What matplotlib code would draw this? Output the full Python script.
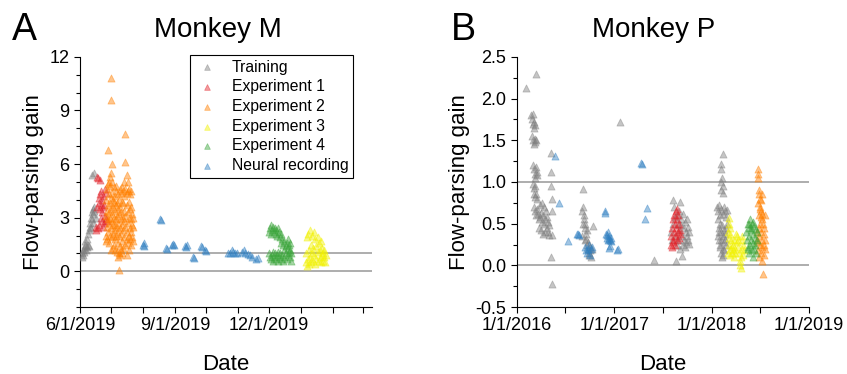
import numpy as np
import matplotlib
matplotlib.use("Agg")
import matplotlib.pyplot as plt
import matplotlib.dates as mdates
from matplotlib.ticker import MultipleLocator, FuncFormatter

plt.rcParams["font.family"] = ["Liberation Sans", "DejaVu Sans"]

# ---- Monkey M: day offset from 2019-06-01, flow-parsing gain ----
M_START = np.datetime64("2019-06-01")
m_train_day = [2, 2, 3, 3, 4, 4, 5, 5, 6, 6, 7, 7, 8, 8, 9, 9, 10, 10, 11, 11,
               12, 12, 12, 13, 13, 13, 14, 14, 14, 15]
m_train_gain = [0.8, 1.0, 1.2, 0.9, 1.3, 1.1, 1.5, 1.7, 1.4, 1.2, 1.8, 1.35, 1.45, 2.1,
                2.3, 1.4, 2.5, 2.7, 2.4, 3.0, 2.9, 3.3, 5.4, 3.5, 3.2, 2.7, 3.6, 5.5,
                3.4, 3.0]
m_exp1_day = [15, 15, 16, 16, 17, 17, 18, 18, 18, 19, 19, 19, 20, 20, 20, 21, 21, 21,
              22, 22, 22, 23, 23, 24, 24, 25, 25, 26]
m_exp1_gain = [2.3, 2.5, 3.6, 5.3, 5.2, 2.4, 3.8, 4.1, 2.6, 4.3, 3.5, 5.1, 4.5, 3.7, 3.0,
               4.0, 3.3, 2.8, 4.2, 3.6, 2.5, 3.7, 2.7, 4.6, 3.1, 2.9, 4.4, 2.8]
m_exp2_day = [25, 25, 25, 25, 26, 26, 26, 26, 27, 27, 27, 27, 27, 28, 28, 28, 28, 28,
              29, 29, 29, 29, 29, 30, 30, 30, 30, 30, 30, 30, 31, 31, 31, 31, 31, 31,
              32, 32, 32, 32, 32, 33, 33, 33, 33, 33, 34, 34, 34, 34, 34, 35, 35, 35,
              35, 35, 36, 36, 36, 36, 36, 37, 37, 37, 37, 37, 38, 38, 38, 38, 38, 39,
              39, 39, 39, 39, 40, 40, 40, 40, 40, 41, 41, 41, 41, 41, 42, 42, 42, 42,
              42, 43, 43, 43, 43, 43, 44, 44, 44, 44, 44, 44, 45, 45, 45, 45, 45, 45,
              46, 46, 46, 46, 46, 47, 47, 47, 47, 47, 48, 48, 48, 48, 49, 49, 49, 49,
              49, 50, 50, 50, 51, 51, 51]
m_exp2_gain = [2.0, 3.1, 4.0, 1.7, 2.5, 3.4, 4.6, 1.8, 2.2, 2.9, 3.7, 6.8, 4.9, 1.6, 2.7,
               3.3, 4.3, 5.0, 2.0, 3.0, 3.8, 4.8, 5.3, 1.2, 2.4, 3.5, 4.1, 5.5, 9.6, 10.8,
               1.9, 2.8, 3.2, 4.4, 6.0, 5.0, 1.3, 2.1, 3.6, 4.0, 2.6, 1.5, 2.3, 3.0, 3.9,
               4.7, 1.8, 2.6, 3.4, 4.2, 1.2, 2.0, 2.9, 3.7, 4.5, 4.8, 1.1, 2.2, 3.1, 3.8,
               2.5, 0.8, 1.6, 2.7, 3.5, 4.3, 0.1, 1.0, 2.0, 3.2, 4.0, 1.4, 2.4, 3.6, 4.6,
               0.9, 1.2, 2.1, 2.9, 3.3, 4.4, 1.7, 2.6, 3.9, 4.7, 1.0, 1.3, 2.3, 3.0, 3.8,
               4.5, 1.9, 2.8, 3.4, 4.2, 5.0, 1.5, 2.5, 3.1, 4.6, 6.1, 7.7, 0.9, 1.8, 2.2,
               3.7, 4.4, 5.4, 1.6, 2.7, 3.3, 4.5, 5.0, 1.2, 2.0, 3.0, 3.9, 4.6, 1.8, 2.4,
               3.5, 4.3, 1.5, 2.2, 2.9, 3.6, 4.5, 1.9, 2.6, 3.2, 1.7, 2.5, 3.0]
m_exp3_day = [219, 219, 220, 220, 221, 221, 222, 222, 223, 223, 224, 224, 225, 225, 226,
              226, 227, 227, 228, 228, 229, 229, 230, 230, 231, 231, 232, 232, 233, 233,
              234, 234, 235, 235, 236, 236, 237, 238]
m_exp3_gain = [0.5, 1.0, 0.3, 1.9, 0.7, 2.1, 1.2, 0.4, 2.3, 0.8, 1.5, 0.5, 2.0, 1.0, 1.3,
               0.6, 2.2, 0.9, 1.8, 0.4, 1.4, 0.7, 1.9, 1.1, 1.6, 0.6, 1.2, 0.8, 1.7, 0.5,
               1.3, 0.9, 1.0, 0.6, 1.2, 0.8, 0.5, 0.9]
m_exp4_day = [183, 183, 184, 184, 185, 185, 185, 186, 186, 187, 187, 187, 188, 188, 189,
              189, 190, 190, 190, 191, 191, 192, 192, 192, 193, 193, 194, 194, 195, 195,
              195, 196, 196, 197, 197, 198, 198, 198, 199, 199, 200, 200, 201, 201, 201,
              202, 202, 203, 203, 203, 204, 204]
m_exp4_gain = [2.2, 1.0, 2.4, 0.8, 2.6, 0.7, 2.1, 2.3, 0.9, 2.5, 1.1, 0.6, 2.2, 0.8, 2.4,
               1.0, 2.1, 0.7, 2.3, 2.0, 0.9, 2.4, 1.1, 0.6, 2.2, 0.8, 1.9, 1.0, 2.1, 0.7,
               1.6, 1.8, 0.9, 1.5, 0.6, 1.7, 1.2, 0.8, 1.4, 1.0, 1.6, 0.7, 1.3, 1.8, 0.9,
               1.5, 1.1, 1.2, 0.8, 1.6, 1.0, 0.6]
m_neural_day = [61, 62, 62, 77, 78, 83, 84, 89, 90, 91, 102, 103, 104, 109, 110, 117, 118,
                121, 122, 143, 145, 147, 148, 150, 152, 157, 159, 160, 163, 165, 167, 170,
                172]
m_neural_gain = [1.5, 1.6, 1.4, 2.9, 2.85, 1.3, 1.25, 1.5, 1.55, 1.45, 1.4, 1.35, 1.45,
                 0.8, 0.75, 1.4, 1.35, 1.2, 1.15, 1.0, 1.05, 1.2, 1.1, 1.0, 1.05, 1.1, 1.2,
                 1.05, 0.95, 0.9, 0.8, 0.7, 0.75]

# ---- Monkey P: day offset from 2016-01-01 ----
P_START = np.datetime64("2016-01-01")
p_train_day = [35, 71, 55, 58, 60, 62, 64, 66, 68, 58, 61, 64, 67, 70, 73, 62, 65, 68, 72,
               75, 78, 70, 60, 64, 68, 66, 70, 74, 78, 64, 68, 72, 76, 80, 84, 88, 92, 96,
               100, 104, 108, 112, 116, 120, 86, 94, 102, 110, 82, 90, 98, 106, 114, 118,
               122, 130, 130, 130, 132, 131, 134, 130, 131,
               248, 250, 252, 246, 255, 258, 260, 262, 256, 264, 266, 268, 270, 272, 274,
               276, 260, 254, 250, 244, 278, 282, 288, 387, 515,
               585, 590, 596, 588, 592, 600, 605, 610, 612, 615, 618, 620, 620, 622, 624,
               626, 628, 630, 632, 634, 636, 638, 640, 642, 644, 646, 648, 602, 606, 614,
               580, 583, 598, 608,
               772, 765, 768, 770, 766, 772, 768, 774, 752, 756, 760, 764, 768, 772, 776,
               780, 784, 788, 754, 758, 762, 766, 770, 774, 778, 782, 786, 790, 756, 760,
               764, 768, 772, 776, 780, 760, 766, 770, 774, 778, 764, 784]
p_train_gain = [2.13, 2.29, 1.8, 1.75, 1.7, 1.82, 1.65, 1.72, 1.68, 1.55, 1.5, 1.45, 1.52,
                1.48, 1.5, 1.2, 1.15, 1.1, 1.18, 1.12, 1.08, 1.05, 0.97, 0.93, 0.95, 0.86,
                0.82, 0.85, 0.8, 0.7, 0.65, 0.6, 0.68, 0.62, 0.55, 0.58, 0.63, 0.52, 0.6,
                0.5, 0.55, 0.45, 0.4, 0.48, 0.72, 0.75, 0.7, 0.65, 0.45, 0.42, 0.38, 0.4,
                0.58, 0.52, 0.36, 1.35, 1.12, 0.95, 0.8, 0.65, 0.36, 0.1, -0.22,
                0.92, 0.7, 0.6, 0.65, 0.45, 0.5, 0.38, 0.42, 0.3, 0.25, 0.2, 0.28, 0.15,
                0.12, 0.18, 0.22, 0.32, 0.55, 0.5, 0.35, 0.1, 0.2, 0.47, 1.72, 0.07,
                0.78, 0.7, 0.05, 0.5, 0.58, 0.6, 0.5, 0.42, 0.76, 0.55, 0.48, 0.11, 0.35,
                0.62, 0.25, 0.45, 0.3, 0.52, 0.22, 0.4, 0.28, 0.56, 0.35, 0.46, 0.3, 0.26,
                0.4, 0.25, 0.3, 0.2, 0.4, 0.3, 0.35, 0.65,
                1.33, 1.22, 1.15, 1.05, 1.0, 0.95, 0.9, 0.87, 0.7, 0.65, 0.72, 0.6, 0.68,
                0.62, 0.7, 0.65, 0.58, 0.66, 0.55, 0.45, 0.5, 0.4, 0.48, 0.35, 0.42, 0.38,
                0.45, 0.5, 0.35, 0.3, 0.25, 0.3, 0.2, 0.28, 0.32, 0.4, 0.15, 0.1, 0.12,
                0.18, 0.22, 0.25]
p_exp1_day = [578, 580, 582, 584, 585, 587, 588, 590, 591, 592, 594, 595, 597, 598, 600,
              601, 603, 604, 606, 607, 609, 611, 613]
p_exp1_gain = [0.25, 0.35, 0.22, 0.45, 0.3, 0.55, 0.28, 0.4, 0.6, 0.24, 0.5, 0.35, 0.65,
               0.45, 0.3, 0.68, 0.55, 0.4, 0.6, 0.33, 0.5, 0.42, 0.37]
p_exp2_day = [905, 906, 904, 908, 910, 912, 906, 914, 916, 918, 908, 920, 922, 912, 924,
              926, 916, 928, 910, 920, 930, 906, 914, 922, 932, 904, 918, 926, 910, 920,
              924, 902, 900, 930, 916, 912, 920, 910, 928]
p_exp2_gain = [1.15, 1.1, 1.05, 0.9, 0.85, 0.8, 0.75, 0.7, 0.78, 0.65, 0.6, 0.62, 0.55,
               0.5, 0.5, 0.45, 0.4, 0.38, 0.35, 0.3, 0.3, 0.28, 0.25, 0.22, 0.2, 0.18,
               0.15, 0.12, 0.1, 0.05, -0.1, 0.4, 0.3, 0.6, 0.58, 0.68, 0.85, 0.45, 0.25]
p_exp3_day = [798, 796, 800, 794, 802, 798, 804, 796, 800, 806, 808, 802, 810, 812, 814,
              794, 816, 818, 820, 822, 826, 828, 830, 832, 834, 836, 838, 840, 842, 844,
              846, 848, 850, 852, 845]
p_exp3_gain = [0.57, 0.5, 0.45, 0.4, 0.38, 0.33, 0.3, 0.25, 0.2, 0.22, 0.15, 0.12, 0.18,
               0.25, 0.1, 0.15, 0.3, 0.2, 0.15, 0.38, 0.35, 0.28, 0.3, 0.22, 0.15, 0.05,
               0.0, -0.03, 0.1, 0.2, 0.3, 0.12, 0.25, 0.18, 0.35]
p_exp4_day = [862, 864, 866, 868, 870, 872, 874, 876, 878, 880, 882, 884, 886, 888, 890,
              892, 894, 896, 898, 900, 902, 866, 872, 880, 888, 870, 895, 885]
p_exp4_gain = [0.4, 0.3, 0.5, 0.2, 0.45, 0.35, 0.55, 0.25, 0.42, 0.3, 0.5, 0.18, 0.38,
               0.27, 0.47, 0.2, 0.33, 0.43, 0.15, 0.3, 0.4, 0.22, 0.5, 0.45, 0.52, 0.15,
               0.25, 0.1]
p_neural_day = [142, 160, 192, 228, 230, 232, 257, 260, 263, 266, 270, 275, 280, 284, 330,
                332, 336, 338, 340, 342, 344, 346, 348, 350, 352, 355, 347, 350, 377, 380,
                468, 470, 481, 488]
p_neural_gain = [1.31, 0.75, 0.29, 0.38, 0.38, 0.36, 0.22, 0.18, 0.15, 0.2, 0.25, 0.13,
                 0.2, 0.22, 0.65, 0.63, 0.38, 0.33, 0.36, 0.3, 0.4, 0.32, 0.35, 0.3, 0.33,
                 0.29, 0.21, 0.23, 0.19, 0.2, 1.23, 1.22, 0.55, 0.69]

GROUPS = ["Training", "Experiment 1", "Experiment 2", "Experiment 3", "Experiment 4",
          "Neural recording"]
COLORS = {"Training": "#7f7f7f", "Experiment 1": "#e3242b", "Experiment 2": "#ff8000",
          "Experiment 3": "#f2f200", "Experiment 4": "#3aa53a",
          "Neural recording": "#2f7fc1"}

m_data = {"Training": (m_train_day, m_train_gain), "Experiment 1": (m_exp1_day, m_exp1_gain),
          "Experiment 2": (m_exp2_day, m_exp2_gain), "Experiment 3": (m_exp3_day, m_exp3_gain),
          "Experiment 4": (m_exp4_day, m_exp4_gain),
          "Neural recording": (m_neural_day, m_neural_gain)}
p_data = {"Training": (p_train_day, p_train_gain), "Experiment 1": (p_exp1_day, p_exp1_gain),
          "Experiment 2": (p_exp2_day, p_exp2_gain), "Experiment 3": (p_exp3_day, p_exp3_gain),
          "Experiment 4": (p_exp4_day, p_exp4_gain),
          "Neural recording": (p_neural_day, p_neural_gain)}


def date_label(x, pos):
    d = mdates.num2date(x)
    return f"{d.month}/{d.day}/{d.year}"


def draw(ax, start, data, xlim):
    for g in GROUPS:
        days, gain = data[g]
        dates = start + np.array(days).astype("timedelta64[D]")
        ax.scatter(dates, gain, marker="^", s=26, facecolor=COLORS[g], alpha=0.45,
                   edgecolor=COLORS[g], linewidth=0.6, label=g, zorder=3)
    for yv in (0, 1):
        ax.axhline(yv, color="#a0a0a0", lw=1.2, zorder=1)
    ax.set_xlim(xlim)
    for s in ("top", "right"):
        ax.spines[s].set_visible(False)
    ax.tick_params(direction="out", length=4, width=0.8, labelsize=13, which="both")
    ax.tick_params(which="minor", length=3)
    ax.set_xlabel("Date", fontsize=16, labelpad=14)
    ax.set_ylabel("Flow-parsing gain", fontsize=16, labelpad=4)


fig = plt.figure(figsize=(8.47, 3.74), dpi=100)
axA = fig.add_axes([0.0945, 0.179, 0.345, 0.669])
axB = fig.add_axes([0.610, 0.179, 0.345, 0.669])

draw(axA, M_START, m_data, (np.datetime64("2019-06-01"), np.datetime64("2020-03-10")))
axA.set_ylim(-2, 12)
axA.yaxis.set_major_locator(MultipleLocator(3))
axA.yaxis.set_minor_locator(MultipleLocator(1))
axA.xaxis.set_major_locator(mdates.MonthLocator(bymonth=[6, 9, 12]))
axA.xaxis.set_minor_locator(mdates.MonthLocator())
axA.xaxis.set_major_formatter(FuncFormatter(date_label))
axA.tick_params(axis="x", which="minor", length=4)
leg = axA.legend(loc="upper left", bbox_to_anchor=(0.376, 1.008), fontsize=11.3,
                 frameon=True, fancybox=False, edgecolor="black", framealpha=1,
                 labelspacing=0.3, handlelength=1.6, handletextpad=0.75,
                 borderpad=0.3, borderaxespad=0, markerscale=0.8)
leg.get_frame().set_linewidth(0.8)

draw(axB, P_START, p_data, (np.datetime64("2016-01-01"), np.datetime64("2019-01-01")))
axB.set_ylim(-0.5, 2.5)
axB.yaxis.set_major_locator(MultipleLocator(0.5))
axB.yaxis.set_minor_locator(MultipleLocator(0.25))
axB.yaxis.set_major_formatter(FuncFormatter(lambda v, p: f"{v:.1f}"))
axB.xaxis.set_major_locator(mdates.YearLocator())
axB.xaxis.set_minor_locator(mdates.MonthLocator(bymonth=[1, 7]))
axB.xaxis.set_major_formatter(FuncFormatter(date_label))
axB.tick_params(axis="x", which="minor", length=4)

fig.text(218 / 847, 1 - 37 / 374, "Monkey M", fontsize=20, ha="center", va="baseline")
fig.text(654 / 847, 1 - 37 / 374, "Monkey P", fontsize=20, ha="center", va="baseline")
fig.text(12 / 847, 1 - 40 / 374, "A", fontsize=27, ha="left", va="baseline")
fig.text(451 / 847, 1 - 40 / 374, "B", fontsize=27, ha="left", va="baseline")

fig.savefig("out.png", dpi=100)
